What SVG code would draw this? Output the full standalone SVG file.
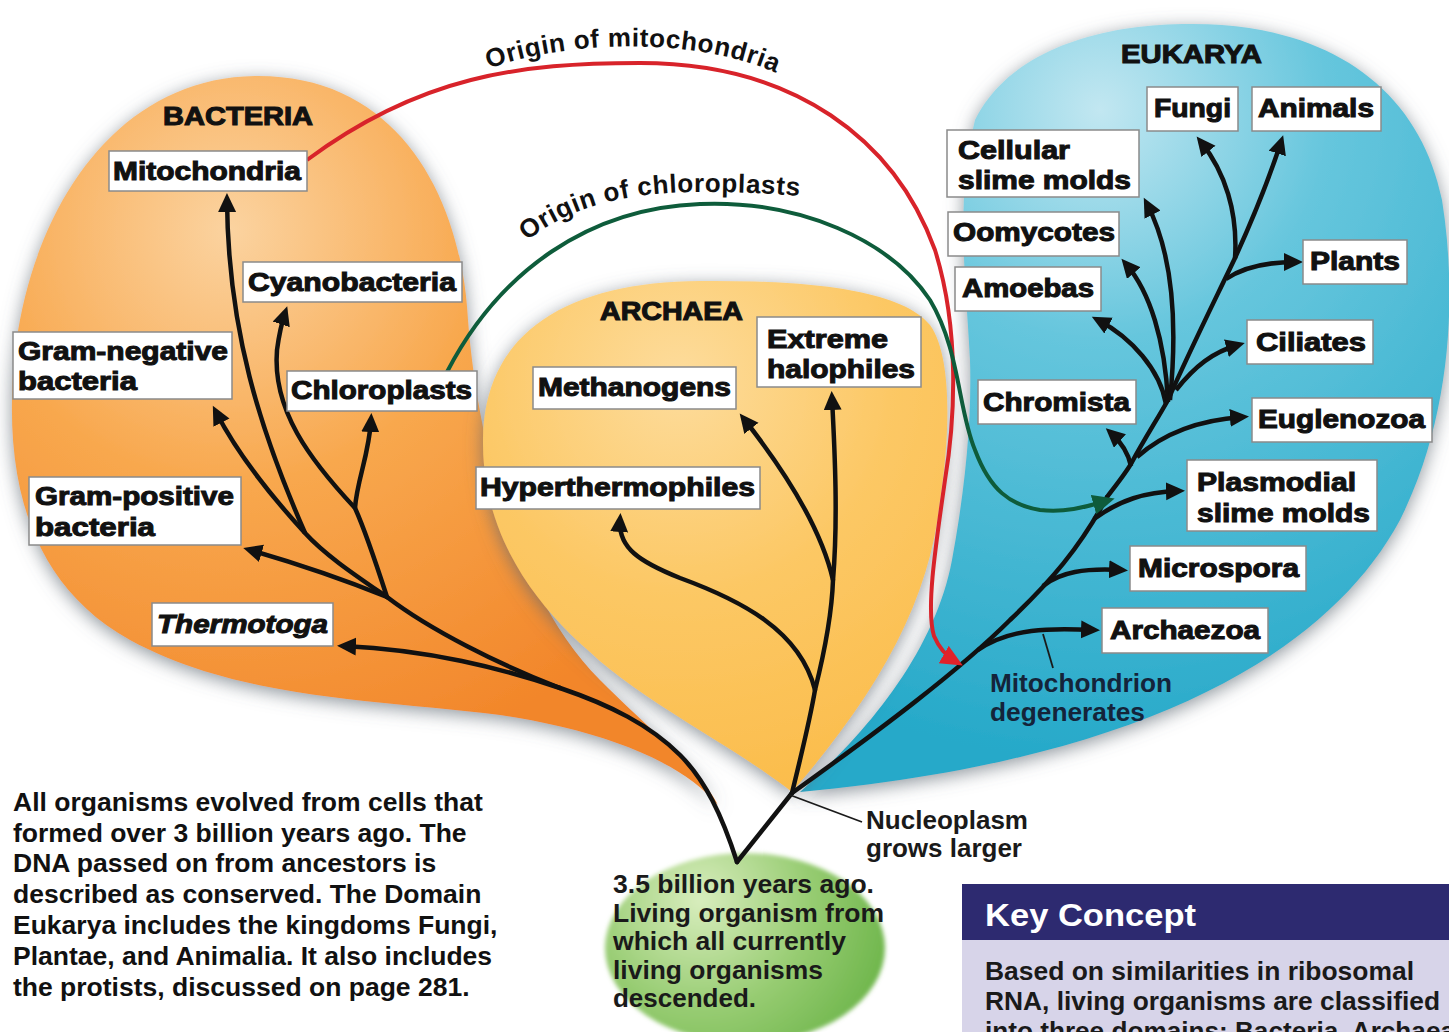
<svg xmlns="http://www.w3.org/2000/svg" width="1449" height="1032" viewBox="0 0 1449 1032">
<defs>
<style>
.box{fill:#fff;stroke:#8a8a8a;stroke-width:1.5}
.lbl{font-family:"Liberation Sans",Arial,Helvetica,sans-serif;font-weight:bold;font-size:25px;fill:#111;stroke:#111;stroke-width:1}
.dom{font-family:"Liberation Sans",Arial,Helvetica,sans-serif;font-weight:bold;font-size:26px;fill:#111;stroke:#111;stroke-width:1.1}
.ln{fill:none;stroke:#111;stroke-width:4.5;stroke-linecap:round;stroke-linejoin:round}
.ar{fill:none;stroke:#111;stroke-width:4.5;stroke-linecap:butt;marker-end:url(#ah)}
.note{font-family:"Liberation Sans",Arial,Helvetica,sans-serif;font-weight:bold;font-size:26px;fill:#1a1a1a}
.para{font-family:"Liberation Sans",Arial,Helvetica,sans-serif;font-weight:bold;font-size:26.5px;fill:#111}
.arc{font-family:"Liberation Sans",Arial,Helvetica,sans-serif;font-weight:bold;font-size:26px;fill:#111;letter-spacing:0.6px}
.ptr{fill:none;stroke:#1a1a1a;stroke-width:1.8}
</style>
<radialGradient id="gBac" gradientUnits="userSpaceOnUse" cx="230" cy="230" r="560">
<stop offset="0" stop-color="#fbd3a0"/>
<stop offset="0.45" stop-color="#f8a84e"/>
<stop offset="1" stop-color="#f2862a"/>
</radialGradient>
<radialGradient id="gArc" gradientUnits="userSpaceOnUse" cx="680" cy="380" r="420">
<stop offset="0" stop-color="#fddc9c"/>
<stop offset="0.5" stop-color="#fcc865"/>
<stop offset="1" stop-color="#fbbd4c"/>
</radialGradient>
<radialGradient id="gEuk" gradientUnits="userSpaceOnUse" cx="1100" cy="110" r="650">
<stop offset="0" stop-color="#c2e7f1"/>
<stop offset="0.35" stop-color="#66c6dd"/>
<stop offset="1" stop-color="#26a9c9"/>
</radialGradient>
<radialGradient id="gGrn" gradientUnits="userSpaceOnUse" cx="700" cy="900" r="200">
<stop offset="0" stop-color="#d8edbd"/>
<stop offset="0.55" stop-color="#97cc72"/>
<stop offset="1" stop-color="#6db54a"/>
</radialGradient>
<filter id="sh" x="-15%" y="-15%" width="130%" height="130%">
<feGaussianBlur in="SourceAlpha" stdDeviation="9"/>
<feOffset dx="0" dy="4" result="b"/>
<feFlood flood-color="#5d6872" flood-opacity="0.7"/>
<feComposite in2="b" operator="in"/>
<feMerge><feMergeNode/><feMergeNode in="SourceGraphic"/></feMerge>
</filter>
<filter id="soft" x="-10%" y="-10%" width="120%" height="120%">
<feGaussianBlur stdDeviation="2"/>
</filter>
<marker id="ah" markerUnits="userSpaceOnUse" markerWidth="22" markerHeight="20" refX="12" refY="9" orient="auto">
<path d="M0,0 L19,9 L0,18 Z" fill="#111"/>
</marker>
<marker id="ahr" markerUnits="userSpaceOnUse" markerWidth="24" markerHeight="22" refX="13" refY="10" orient="auto">
<path d="M0,0 L22,10 L0,20 Z" fill="#e0222a"/>
</marker>
<marker id="ahg" markerUnits="userSpaceOnUse" markerWidth="24" markerHeight="22" refX="13" refY="10" orient="auto">
<path d="M0,0 L22,10 L0,20 Z" fill="#0e5c3b"/>
</marker>
<path id="tpMito" d="M470,76 C560,36 720,34 800,86"/>
<path id="tpChl" d="M505,262 C555,205 630,192 700,192 C750,192 790,194 830,200"/>
</defs>

<rect width="1449" height="1032" fill="#fff"/>

<g id="blobs">
<path id="blob-bacteria" filter="url(#sh)" fill="url(#gBac)" d="M718,805 C680,760 600,730 500,715 C380,700 240,700 130,640 C40,590 10,500 12,400 C14,240 100,78 255,76 C400,74 462,200 468,320 C478,450 520,600 600,680 C650,730 700,770 718,805 Z"/>
<path id="blob-eukarya" filter="url(#sh)" fill="url(#gEuk)" d="M800,792 C870,730 935,650 952,560 C965,490 972,420 970,360 C966,280 955,200 975,120 C1010,50 1100,24 1190,24 C1330,23 1420,90 1442,200 C1458,300 1450,420 1400,520 C1330,650 1150,760 800,792 Z"/>
<path id="blob-archaea" filter="url(#sh)" fill="url(#gArc)" d="M792,792 C740,750 640,700 590,652 C530,600 482,530 483,440 C484,330 570,282 700,281 C800,280 900,288 930,325 C955,360 948,450 940,500 C930,600 880,690 792,792 Z"/>
<ellipse id="blob-ancestor" cx="745" cy="948" rx="140" ry="95" fill="url(#gGrn)" filter="url(#soft)"/>
</g>

<g id="connectors">
<path class="ln" d="M737,862 C722,815 705,780 680,755 C650,725 610,705 560,688"/>
<path class="ln" d="M560,688 C500,665 430,630 387,597"/>
<path class="ar" d="M560,688 C500,668 430,650 344,646"/>
<path class="ar" d="M387,597 C340,578 295,563 250,550"/>
<path class="ln" d="M387,597 C355,575 325,555 305,533"/>
<path class="ar" d="M305,533 C272,497 238,455 216,412"/>
<path class="ar" d="M305,533 C260,430 228,330 227,200"/>
<path class="ln" d="M387,597 C375,560 365,530 355,508"/>
<path class="ar" d="M355,508 C357,480 369,455 371,420"/>
<path class="ar" d="M355,508 C310,460 272,410 277,350 C279,335 282,322 285,313"/>

<path class="ln" d="M737,862 L792,793"/>
<path class="ln" d="M792,793 C800,760 810,720 815,690"/>
<path class="ar" d="M815,690 C800,630 740,600 680,578 C640,562 618,548 620,520"/>
<path class="ln" d="M815,690 C825,650 832,610 833,580"/>
<path class="ar" d="M833,580 C822,532 792,480 744,419"/>
<path class="ar" d="M833,580 C838,520 835,455 832,398"/>

<path class="ln" d="M792,793 C880,730 960,670 1010,620 C1050,582 1080,548 1107,497"/>
<path class="ar" d="M978,650 C1010,628 1050,628 1093,630"/>
<path class="ar" d="M1043,586 C1060,572 1085,568 1121,570"/>
<path class="ar" d="M1094,519 C1120,500 1145,492 1178,491"/>
<path class="ln" d="M1107,497 C1120,480 1128,470 1132,462 C1145,438 1158,418 1168,400"/>
<path class="ar" d="M1131,466 C1128,452 1121,442 1111,433"/>
<path class="ar" d="M1137,457 C1165,432 1200,420 1242,417"/>
<path class="ar" d="M1166,404 C1160,370 1132,338 1098,320"/>
<path class="ar" d="M1168,402 C1165,340 1150,292 1126,264"/>
<path class="ar" d="M1170,400 C1178,320 1172,252 1147,204"/>
<path class="ar" d="M1176,390 C1195,366 1213,352 1238,345"/>
<path class="ln" d="M1168,400 C1190,350 1215,300 1235,258"/>
<path class="ar" d="M1226,279 C1245,266 1268,262 1296,262"/>
<path class="ar" d="M1235,258 C1238,212 1225,172 1201,142"/>
<path class="ar" d="M1235,258 C1250,225 1268,182 1281,142"/>

<path id="origin-mitochondria" d="M307,160 C420,76 520,63 640,63 C795,63 895,140 935,250 C960,330 955,420 945,480 C935,550 926,610 934,636 C940,650 948,657 955,661" fill="none" stroke="#d8232a" stroke-width="4" marker-end="url(#ahr)"/>
<path id="origin-chloroplasts" d="M447,372 C500,270 590,208 700,204 C800,200 890,240 930,300 C960,350 958,410 975,450 C990,490 1010,505 1040,510 C1065,513 1085,507 1106,501" fill="none" stroke="#0e5c3b" stroke-width="4" marker-end="url(#ahg)"/>

<path class="ptr" d="M790,795 L862,822"/>
<path class="ptr" d="M1043,634 L1053,668"/>
</g>

<g id="arc-labels">
<text class="arc"><textPath href="#tpMito" startOffset="49%" text-anchor="middle">Origin of mitochondria</textPath></text>
<text class="arc"><textPath href="#tpChl" startOffset="50%" text-anchor="middle">Origin of chloroplasts</textPath></text>
</g>

<g id="title-bacteria"><text class="dom" x="163" y="125" textLength="150" lengthAdjust="spacingAndGlyphs">BACTERIA</text></g>
<g id="title-archaea"><text class="dom" x="600" y="320" textLength="143" lengthAdjust="spacingAndGlyphs">ARCHAEA</text></g>
<g id="title-eukarya"><text class="dom" x="1121" y="63" textLength="141" lengthAdjust="spacingAndGlyphs">EUKARYA</text></g>

<g id="node-mitochondria"><rect class="box" x="109" y="151" width="198" height="40"/><text class="lbl" x="113" y="180" textLength="188" lengthAdjust="spacingAndGlyphs">Mitochondria</text></g>
<g id="node-cyanobacteria"><rect class="box" x="243" y="262" width="219" height="40"/><text class="lbl" x="248" y="291" textLength="208" lengthAdjust="spacingAndGlyphs">Cyanobacteria</text></g>
<g id="node-gram-negative"><rect class="box" x="13" y="332" width="219" height="67"/><text class="lbl" x="18" y="360" textLength="210" lengthAdjust="spacingAndGlyphs">Gram-negative</text><text class="lbl" x="18" y="390" textLength="119" lengthAdjust="spacingAndGlyphs">bacteria</text></g>
<g id="node-chloroplasts"><rect class="box" x="287" y="371" width="190" height="40"/><text class="lbl" x="291" y="399" textLength="181" lengthAdjust="spacingAndGlyphs">Chloroplasts</text></g>
<g id="node-gram-positive"><rect class="box" x="29" y="477" width="212" height="68"/><text class="lbl" x="35" y="505" textLength="199" lengthAdjust="spacingAndGlyphs">Gram-positive</text><text class="lbl" x="35" y="536" textLength="120" lengthAdjust="spacingAndGlyphs">bacteria</text></g>
<g id="node-thermotoga"><rect class="box" x="152" y="603" width="181" height="43"/><text class="lbl" x="157" y="633" font-style="italic" textLength="171" lengthAdjust="spacingAndGlyphs">Thermotoga</text></g>

<g id="node-extreme-halophiles"><rect class="box" x="757" y="317" width="164" height="70"/><text class="lbl" x="767" y="348" textLength="121" lengthAdjust="spacingAndGlyphs">Extreme</text><text class="lbl" x="767" y="378" textLength="148" lengthAdjust="spacingAndGlyphs">halophiles</text></g>
<g id="node-methanogens"><rect class="box" x="533" y="367" width="203" height="42"/><text class="lbl" x="538" y="396" textLength="193" lengthAdjust="spacingAndGlyphs">Methanogens</text></g>
<g id="node-hyperthermophiles"><rect class="box" x="476" y="467" width="284" height="42"/><text class="lbl" x="480" y="496" textLength="275" lengthAdjust="spacingAndGlyphs">Hyperthermophiles</text></g>

<g id="node-fungi"><rect class="box" x="1147" y="87" width="91" height="44"/><text class="lbl" x="1154" y="117" textLength="77" lengthAdjust="spacingAndGlyphs">Fungi</text></g>
<g id="node-animals"><rect class="box" x="1252" y="87" width="129" height="44"/><text class="lbl" x="1258" y="117" textLength="116" lengthAdjust="spacingAndGlyphs">Animals</text></g>
<g id="node-cellular-slime-molds"><rect class="box" x="947" y="130" width="192" height="67"/><text class="lbl" x="958" y="159" textLength="112" lengthAdjust="spacingAndGlyphs">Cellular</text><text class="lbl" x="958" y="189" textLength="173" lengthAdjust="spacingAndGlyphs">slime molds</text></g>
<g id="node-oomycotes"><rect class="box" x="948" y="212" width="171" height="44"/><text class="lbl" x="953" y="241" textLength="162" lengthAdjust="spacingAndGlyphs">Oomycotes</text></g>
<g id="node-amoebas"><rect class="box" x="955" y="267" width="146" height="44"/><text class="lbl" x="962" y="297" textLength="132" lengthAdjust="spacingAndGlyphs">Amoebas</text></g>
<g id="node-plants"><rect class="box" x="1303" y="240" width="104" height="44"/><text class="lbl" x="1310" y="270" textLength="90" lengthAdjust="spacingAndGlyphs">Plants</text></g>
<g id="node-ciliates"><rect class="box" x="1247" y="320" width="126" height="44"/><text class="lbl" x="1256" y="351" textLength="110" lengthAdjust="spacingAndGlyphs">Ciliates</text></g>
<g id="node-chromista"><rect class="box" x="978" y="380" width="158" height="44"/><text class="lbl" x="983" y="411" textLength="147" lengthAdjust="spacingAndGlyphs">Chromista</text></g>
<g id="node-euglenozoa"><rect class="box" x="1252" y="398" width="180" height="44"/><text class="lbl" x="1258" y="428" textLength="167" lengthAdjust="spacingAndGlyphs">Euglenozoa</text></g>
<g id="node-plasmodial-slime-molds"><rect class="box" x="1187" y="460" width="190" height="71"/><text class="lbl" x="1197" y="491" textLength="159" lengthAdjust="spacingAndGlyphs">Plasmodial</text><text class="lbl" x="1197" y="522" textLength="173" lengthAdjust="spacingAndGlyphs">slime molds</text></g>
<g id="node-microspora"><rect class="box" x="1130" y="546" width="176" height="45"/><text class="lbl" x="1138" y="577" textLength="161" lengthAdjust="spacingAndGlyphs">Microspora</text></g>
<g id="node-archaezoa"><rect class="box" x="1102" y="608" width="166" height="45"/><text class="lbl" x="1110" y="639" textLength="150" lengthAdjust="spacingAndGlyphs">Archaezoa</text></g>

<g id="note-mitochondrion">
<text class="note" x="990" y="692" style="fill:#14243a" textLength="182" lengthAdjust="spacingAndGlyphs">Mitochondrion</text>
<text class="note" x="990" y="721" style="fill:#14243a" textLength="155" lengthAdjust="spacingAndGlyphs">degenerates</text>
</g>
<g id="note-nucleoplasm">
<text class="note" x="866" y="829" textLength="162" lengthAdjust="spacingAndGlyphs">Nucleoplasm</text>
<text class="note" x="866" y="857" textLength="156" lengthAdjust="spacingAndGlyphs">grows larger</text>
</g>
<g id="note-ancestor">
<text class="note" x="613" y="893" font-size="27" textLength="261" lengthAdjust="spacingAndGlyphs">3.5 billion years ago.</text>
<text class="note" x="613" y="922" font-size="27" textLength="271" lengthAdjust="spacingAndGlyphs">Living organism from</text>
<text class="note" x="613" y="950" font-size="27" textLength="233" lengthAdjust="spacingAndGlyphs">which all currently</text>
<text class="note" x="613" y="979" font-size="27" textLength="210" lengthAdjust="spacingAndGlyphs">living organisms</text>
<text class="note" x="613" y="1007" font-size="27" textLength="143" lengthAdjust="spacingAndGlyphs">descended.</text>
</g>

<g id="paragraph">
<text class="para" x="13" y="811">All organisms evolved from cells that</text>
<text class="para" x="13" y="842">formed over 3 billion years ago. The</text>
<text class="para" x="13" y="872">DNA passed on from ancestors is</text>
<text class="para" x="13" y="903">described as conserved. The Domain</text>
<text class="para" x="13" y="934">Eukarya includes the kingdoms Fungi,</text>
<text class="para" x="13" y="965">Plantae, and Animalia. It also includes</text>
<text class="para" x="13" y="996">the protists, discussed on page 281.</text>
</g>

<g id="key-concept">
<rect x="962" y="884" width="487" height="56" fill="#2d2a70"/>
<rect x="962" y="940" width="487" height="92" fill="#d7d4e9"/>
<text x="985" y="926" font-family="Liberation Sans, Arial, sans-serif" font-weight="bold" font-size="32" fill="#fff" textLength="211" lengthAdjust="spacingAndGlyphs">Key Concept</text>
<text class="note" x="985" y="980" textLength="429" lengthAdjust="spacingAndGlyphs">Based on similarities in ribosomal</text>
<text class="note" x="985" y="1010" textLength="455" lengthAdjust="spacingAndGlyphs">RNA, living organisms are classified</text>
<text class="note" x="985" y="1040" textLength="470" lengthAdjust="spacingAndGlyphs">into three domains: Bacteria, Archaea</text>
</g>
</svg>
